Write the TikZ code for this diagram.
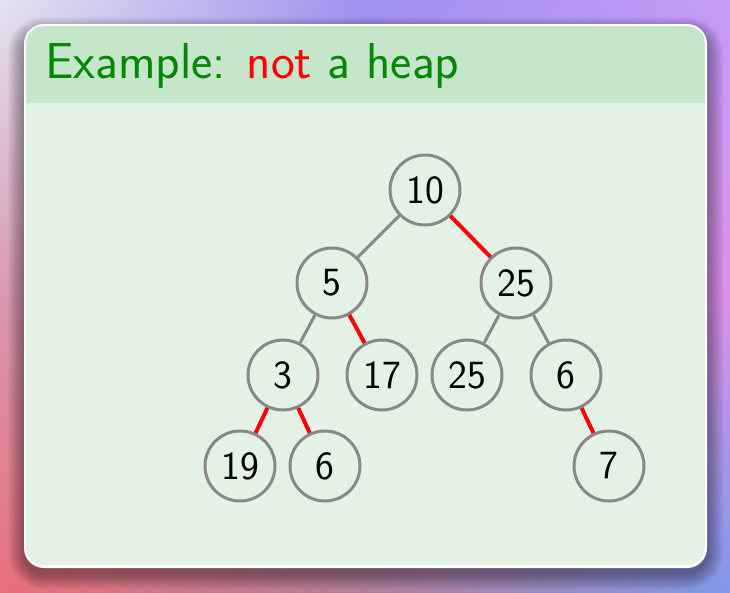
\documentclass[tikz,border=0pt]{standalone}
\usepackage{fontspec}
\newfontfamily\bigsans{lmsans17-regular.otf}
\usetikzlibrary{shadings}
\definecolor{hdr}{HTML}{C6E6CB}
\definecolor{bdy}{HTML}{E3F2E5}
\definecolor{ttl}{HTML}{008800}
\definecolor{ngray}{HTML}{888888}
\definecolor{gA}{HTML}{E4E2F0}
\definecolor{gB}{HTML}{A090F0}
\definecolor{gC}{HTML}{C49CF8}
\definecolor{gD}{HTML}{D898B0}
\definecolor{gE}{HTML}{C090D0}
\definecolor{gF}{HTML}{D890E8}
\definecolor{gG}{HTML}{E8707A}
\definecolor{gH}{HTML}{B07D98}
\definecolor{gI}{HTML}{8098E8}
\tikzset{
  hnode/.style={circle, draw=ngray, line width=3pt, minimum size=70pt, inner sep=0pt, fill=bdy,
    font=\bigsans\fontsize{40}{48}\selectfont},
  okedge/.style={draw=ngray, line width=3pt},
  badedge/.style={draw=red, line width=4pt},
}
\begin{document}
\begin{tikzpicture}[x=1pt,y=-1pt]
\useasboundingbox (0,0) rectangle (730,592);
\shade[upper left=gA, upper right=gB, lower left=gD, lower right=gE] (0,0) rectangle (365.5,296.5);
\shade[upper left=gB, upper right=gC, lower left=gE, lower right=gF] (365,0) rectangle (730,296.5);
\shade[upper left=gD, upper right=gE, lower left=gG, lower right=gH] (0,296) rectangle (365.5,592);
\shade[upper left=gE, upper right=gF, lower left=gH, lower right=gI] (365,296) rectangle (730,592);
\foreach \i in {1,...,16} {
  \fill[black, opacity=0.022, rounded corners=20pt+\i pt] (24-\i,24-\i+9) rectangle (707+\i,568+\i+5);
}
\fill[white, rounded corners=20pt] (24,24) rectangle (707,568);
\begin{scope}
  \clip[rounded corners=18pt] (26,26) rectangle (705,565);
  \fill[bdy] (26,26) rectangle (705,565);
  \fill[hdr] (26,26) rectangle (705,103);
\end{scope}
\node[anchor=base west, inner sep=0pt, text=ttl, font=\bigsans\fontsize{50.5}{60}\selectfont] (title) at (45,78) {Example: \textcolor{red}{not} a heap};
\node[hnode] (n10) at (425,190) {10};
\node[hnode] (n5) at (332,283) {5};
\node[hnode] (n25a) at (516,283) {25};
\node[hnode] (n3) at (283,375) {3};
\node[hnode] (n17) at (382,375) {17};
\node[hnode] (n25b) at (467,375) {25};
\node[hnode] (n6a) at (566,375) {6};
\node[hnode] (n19) at (240,466) {19};
\node[hnode] (n6b) at (325,466) {6};
\node[hnode] (n7) at (609,466) {7};
\draw[okedge] (n10) -- (n5);
\draw[badedge] (n10) -- (n25a);
\draw[okedge] (n5) -- (n3);
\draw[badedge] (n5) -- (n17);
\draw[okedge] (n25a) -- (n25b);
\draw[okedge] (n25a) -- (n6a);
\draw[badedge] (n3) -- (n19);
\draw[badedge] (n3) -- (n6b);
\draw[badedge] (n6a) -- (n7);
\end{tikzpicture}
\end{document}
